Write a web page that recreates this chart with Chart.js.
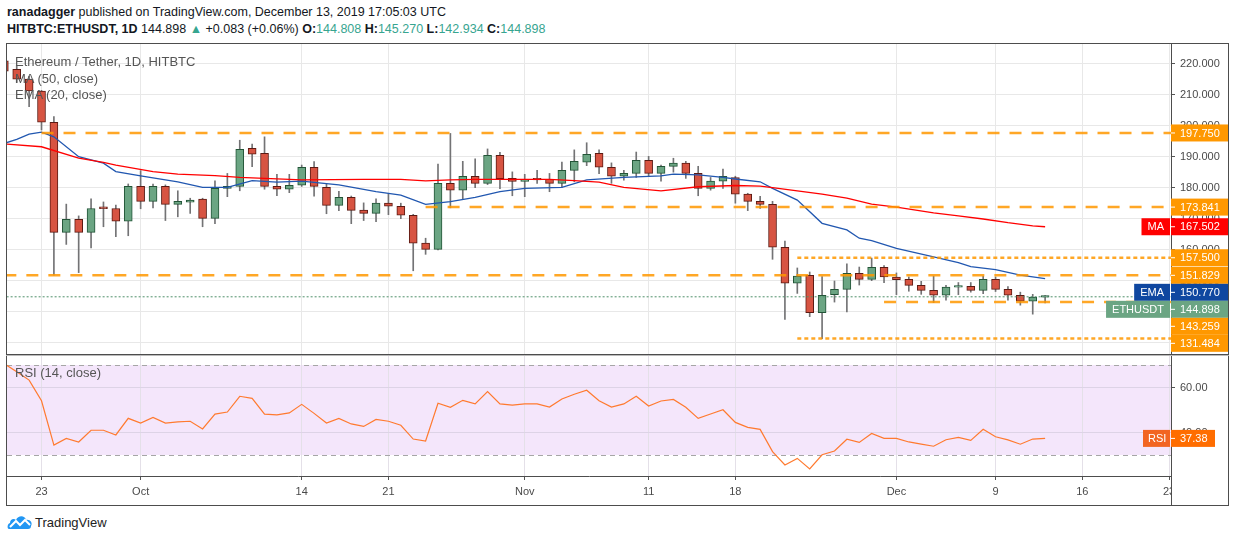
<!DOCTYPE html>
<html>
<head>
<meta charset="utf-8">
<script src="https://cdn.jsdelivr.net/npm/chart.js@4.4.1/dist/chart.umd.min.js"></script>
<style>
  body { margin: 0; width: 1234px; height: 540px; background: #fff; position: relative; overflow: hidden;
         font-family: "Liberation Sans", sans-serif; color: #131722; }
  .abs { position: absolute; }
  .hdr { left: 7px; font-size: 12.5px; white-space: nowrap; }
  .up { color: #37a590; }
  .legend { left: 15px; font-size: 13px; color: #555; line-height: 16.5px; white-space: nowrap; }
  .frame { border: 1px solid #4d4d4d; box-sizing: border-box; pointer-events: none; }
  .hline { background: #4d4d4d; height: 1px; }
  .vline { background: #4d4d4d; width: 1px; }
</style>
</head>
<body>
<div class="abs hdr" style="top:5px"><b>ranadagger</b> published on TradingView.com, December 13, 2019 17:05:03 UTC</div>
<div class="abs hdr" style="top:22px"><b>HITBTC:ETHUSDT, 1D</b> 144.898 <span class="up">&#9650;</span> +0.083 (+0.06%) <b>O:</b><span class="up">144.808</span> <b>H:</b><span class="up">145.270</span> <b>L:</b><span class="up">142.934</span> <b>C:</b><span class="up">144.898</span></div>

<div class="abs" style="left:0;top:44px;width:1234px;height:310px"><canvas id="priceChart"></canvas></div>
<div class="abs" style="left:0;top:356px;width:1234px;height:149px"><canvas id="rsiChart"></canvas></div>

<div class="abs frame" style="left:6px;top:43px;width:1223px;height:463px"></div>
<div class="abs hline" style="left:6px;top:354px;width:1223px"></div>
<div class="abs hline" style="left:6px;top:355px;width:1223px;background:#bbb"></div>
<div class="abs vline" style="left:1171px;top:476px;height:29px"></div>

<div class="abs legend" style="top:54px">Ethereum / Tether, 1D, HITBTC<br>MA (50, close)<br>EMA (20, close)</div>
<div class="abs legend" style="top:365px">RSI (14, close)</div>

<div class="abs" style="left:7px;top:514px;display:flex;align-items:center;font-size:13px;color:#222">
  <svg width="26" height="16" viewBox="0 0 26 16">
    <path d="M2 15 C0 15 0 10 3 9 C3 5 7 4 9 6 C11 1 18 1 19 6 C23 5 26 9 24 12 C24 14 23 15 21 15 Z" fill="#2196f3"/>
    <path d="M3 13 L9 7 L13 11 L18 6 L23 11" stroke="#fff" stroke-width="2" fill="none"/>
  </svg>
  <span style="margin-left:2px">TradingView</span>
</div>

<script>
// Sep 20, 2019 = day 0 ... Dec 13, 2019 = day 84
const opens = [221.0, 218.3, 215.1, 211.3, 201.2, 165.7, 169.9, 165.7, 173.9, 173.4,
  169.3, 180.5, 175.7, 180.5, 174.7, 175.4, 176.4, 170.2, 179.9, 180.5,
  192.8, 191.2, 180.5, 179.6, 180.9, 186.7, 180.2, 174.4, 177.0, 172.9,
  171.8, 175.1, 174.1, 171.2, 162.2, 160.2, 181.5, 179.3, 183.8, 181.5,
  190.5, 183.1, 182.1, 183.1, 182.8, 181.5, 185.7, 188.3, 191.2, 186.7,
  183.8, 184.7, 188.9, 184.7, 187.0, 188.0, 184.7, 179.9, 182.2, 183.4,
  178.0, 175.7, 174.7, 160.9, 149.3, 151.8, 139.8, 145.6, 147.3, 152.5,
  150.5, 154.4, 151.3, 150.5, 148.6, 147.0, 145.4, 148.0, 148.3, 147.0,
  150.5, 147.3, 145.4, 143.5, 144.808];
const highs = [222.0, 219.5, 216.0, 211.5, 203.0, 174.8, 171.0, 176.5, 175.5, 174.5,
  181.3, 185.6, 181.3, 181.0, 179.1, 176.7, 176.7, 182.3, 184.7, 195.4,
  194.2, 196.5, 184.4, 184.4, 187.4, 188.5, 181.3, 178.9, 177.4, 175.2,
  176.5, 178.1, 175.1, 171.5, 163.8, 187.7, 197.6, 188.6, 189.4, 192.6,
  191.5, 185.2, 184.4, 185.7, 184.7, 188.4, 192.3, 194.6, 192.3, 188.1,
  185.7, 191.6, 190.2, 187.4, 189.6, 188.6, 187.0, 183.4, 186.1, 183.8,
  178.3, 177.3, 175.7, 162.9, 154.2, 152.9, 151.4, 150.0, 155.5, 154.5,
  157.4, 155.0, 152.6, 151.3, 149.9, 151.6, 148.6, 149.5, 149.5, 151.6,
  151.3, 148.2, 146.4, 145.7, 145.27];
const lows = [216.5, 214.0, 206.2, 198.7, 151.9, 161.8, 152.7, 160.7, 167.5, 164.3,
  164.6, 173.3, 173.6, 169.5, 170.7, 171.8, 167.5, 168.5, 177.2, 179.1,
  186.9, 179.6, 177.5, 178.5, 180.5, 177.4, 171.7, 172.7, 168.5, 169.5,
  169.1, 171.4, 170.1, 153.3, 158.6, 160.0, 173.6, 176.4, 180.1, 181.1,
  179.8, 177.5, 177.2, 181.5, 178.8, 180.2, 182.0, 187.2, 184.6, 181.5,
  182.5, 183.4, 183.8, 182.2, 185.1, 183.1, 177.5, 179.3, 179.9, 175.1,
  172.7, 173.4, 157.0, 137.6, 146.0, 138.5, 131.4, 143.2, 140.0, 148.7,
  150.1, 149.5, 145.6, 146.7, 145.7, 143.0, 143.8, 145.6, 146.4, 145.9,
  146.6, 143.8, 142.2, 139.3, 142.934];
const closes = [217.7, 215.1, 211.3, 201.2, 165.7, 169.9, 165.7, 173.4, 173.3, 169.3,
  180.5, 175.7, 180.5, 174.7, 175.7, 176.1, 170.2, 179.9, 180.5, 192.5,
  190.9, 180.5, 179.6, 180.9, 186.7, 180.5, 174.4, 177.0, 172.8, 171.8,
  175.1, 174.1, 171.2, 162.2, 160.2, 181.5, 179.3, 183.8, 181.5, 190.5,
  183.0, 182.1, 182.8, 182.6, 181.5, 185.7, 188.6, 190.9, 186.7, 183.8,
  184.7, 188.9, 184.7, 187.0, 188.0, 184.7, 179.9, 182.2, 183.8, 178.0,
  175.7, 174.7, 160.9, 149.3, 151.6, 139.8, 145.4, 147.3, 152.5, 150.5,
  154.4, 151.3, 150.4, 148.6, 147.0, 145.4, 148.0, 148.4, 147.0, 150.5,
  147.3, 145.4, 143.5, 144.82, 144.898];

// MA (50) and EMA (20)
const maDays = [0, 3, 6, 8, 9, 12, 14, 17, 19, 21, 24, 29, 32, 34, 36, 38, 41, 44, 46, 48, 50, 53, 56, 59, 61, 62, 64, 66, 68, 70, 72, 75, 77, 79, 81, 83, 84];
const maValues = [194.2, 193.3, 189.6, 188.3, 187.4, 185.3, 184.5, 184.0, 183.4, 183.1, 182.6, 182.8, 182.8, 182.3, 182.6, 182.8, 182.8, 182.8, 182.4, 181.9, 180.2, 179.1, 180.4, 180.8, 180.6, 180.1, 179.1, 178.0, 176.7, 174.8, 173.8, 172.0, 171.0, 170.0, 168.8, 167.8, 167.502];
const emaDays = [0, 1, 2, 3, 4, 6, 8, 9, 11, 14, 16, 18, 20, 22, 24, 27, 30, 32, 34, 36, 38, 40, 42, 45, 47, 50, 53, 54, 56, 58, 59, 61, 62, 64, 66, 68, 69, 70, 72, 75, 77, 78, 80, 82, 84];
const emaValues = [194.4, 195.7, 197.4, 198.0, 196.5, 190.1, 188.0, 185.3, 183.9, 182.0, 180.2, 180.2, 182.4, 181.9, 182.2, 181.0, 178.8, 177.7, 174.7, 175.6, 177.0, 178.8, 179.9, 180.2, 182.6, 183.4, 183.9, 184.5, 184.2, 183.4, 182.9, 182.0, 179.9, 176.1, 168.6, 166.5, 163.8, 163.0, 160.5, 157.8, 155.9, 154.6, 153.7, 151.9, 150.77];

const rsiValues = [70.5, 67.0, 63.3, 54.1, 34.4, 37.4, 35.8, 41.0, 41.0, 38.9,
  46.3, 44.2, 46.7, 44.2, 44.7, 45.0, 41.6, 48.2, 49.1, 56.1,
  55.2, 48.2, 47.8, 48.7, 52.5, 48.5, 44.2, 46.3, 43.8, 42.7,
  45.8, 45.0, 43.2, 37.1, 36.2, 53.0, 51.2, 54.3, 52.7, 58.2,
  52.7, 52.2, 52.7, 52.7, 51.3, 54.9, 57.0, 58.8, 54.1, 51.3,
  52.7, 56.1, 51.8, 54.0, 54.7, 51.2, 46.3, 48.2, 50.1, 44.5,
  42.3, 41.4, 31.5, 25.6, 28.5, 23.8, 30.1, 31.8, 37.0, 35.6,
  39.6, 37.4, 37.4, 35.8, 34.8, 33.9, 36.8, 37.8, 36.5, 41.4,
  38.1, 36.7, 34.8, 37.1, 37.38];

// horizontal levels drawn on the chart
const levelValues = [197.75, 173.841, 157.5, 151.829, 143.259, 131.484];
const levelStartDays = [3, 34, 64, 0, 71, 64];

const tickDays = [3, 11, 24, 31, 42, 52, 59, 72, 80, 87, 94];
const tickLabels = ['23', 'Oct', '14', '21', 'Nov', '11', '18', 'Dec', '9', '16', '23'];
const priceTicks = [130, 140, 150, 160, 170, 180, 190, 200, 210, 220];
const rsiTicks = [40, 60];
const rsiBand = [30, 70];

// styles
const UP = '#6ba583', DOWN = '#d75442', UP_BORDER = '#225437', DOWN_BORDER = '#5b1a13', WICK = '#737375';
const ORANGE = '#ff9800';
const levelDash = [[12, 10], [12, 10], [4, 3], [12, 10], [12, 10], [4, 3]];
const FONT = '"Liberation Sans", sans-serif';
const X_MIN = 0.215, X_MAX = 94.16;

Chart.defaults.font.family = FONT;
Chart.defaults.font.size = 11;
Chart.defaults.color = '#4a4a4a';
Chart.defaults.animation = false;

const isUp = i => closes[i] >= opens[i];
const lastIdx = closes.length - 1;

function fixY(width) {
  return s => { s.width = width; s.paddingTop = 0; s.paddingBottom = 0; };
}

// right-side price tags, stacked so they don't overlap
const priceTagPlugin = {
  id: 'priceTags',
  afterDraw(chart) {
    const { ctx, chartArea, scales: { y } } = chart;
    const tags = levelValues.map(v => ({ v, bg: ORANGE }));
    tags.push({ v: maValues[maValues.length - 1], bg: '#ff0000', tag: 'MA' });
    tags.push({ v: emaValues[emaValues.length - 1], bg: '#0f47a0', tag: 'EMA' });
    tags.push({ v: closes[lastIdx], bg: UP, tag: 'ETHUSDT' });
    tags.forEach(t => t.py = y.getPixelForValue(t.v));
    tags.sort((a, b) => a.py - b.py);
    const h = 17;
    let prev = -100;
    ctx.save();
    ctx.font = '11px ' + FONT;
    ctx.textBaseline = 'middle';
    tags.forEach(t => {
      const cy = Math.max(t.py, prev + h);
      prev = cy;
      const x0 = chartArea.right;
      ctx.fillStyle = t.bg;
      ctx.fillRect(x0, cy - h / 2, 57, h);
      ctx.fillStyle = '#fff';
      ctx.fillRect(x0, cy - 0.5, 4, 1);
      ctx.fillText(t.v.toFixed(3), x0 + 9, cy + 0.5);
      if (t.tag) {
        const w = ctx.measureText(t.tag).width + 12;
        ctx.fillStyle = t.bg;
        ctx.fillRect(x0 - w - 1, cy - h / 2, w, h);
        ctx.fillStyle = '#fff';
        ctx.fillText(t.tag, x0 - w + 5, cy + 0.5);
      }
    });
    ctx.restore();
  }
};

const wickData = highs.map((h, i) => ({ x: i, y: [lows[i], h] }));
const bodyData = opens.map((o, i) => ({ x: i, y: [Math.min(o, closes[i]), Math.max(o, closes[i])] }));
const levelSets = levelValues.map((v, k) => ({
  type: 'line',
  data: [{ x: levelStartDays[k], y: v }, { x: X_MAX + 1, y: v }],
  borderColor: 'rgba(255,152,0,0.85)',
  borderWidth: 2.5,
  borderDash: levelDash[k],
  pointRadius: 0,
  order: 1
}));

new Chart(document.getElementById('priceChart'), {
  type: 'bar',
  data: {
    datasets: [
      { data: wickData, backgroundColor: WICK, barThickness: 1, grouped: false, order: 6 },
      { data: bodyData, grouped: false, order: 5, barThickness: 8, borderWidth: 1, borderSkipped: false, minBarLength: 1.5,
        backgroundColor: c => isUp(c.dataIndex) ? UP : DOWN,
        borderColor: c => isUp(c.dataIndex) ? UP_BORDER : DOWN_BORDER },
      { type: 'line', data: maDays.map((d, i) => ({ x: d, y: maValues[i] })), borderColor: '#ff0000', borderWidth: 1.3, pointRadius: 0, order: 3 },
      { type: 'line', data: emaDays.map((d, i) => ({ x: d, y: emaValues[i] })), borderColor: '#2157b0', borderWidth: 1.3, pointRadius: 0, order: 3 },
      { type: 'line', data: [{ x: X_MIN - 1, y: closes[lastIdx] }, { x: X_MAX + 1, y: closes[lastIdx] }],
        borderColor: '#4f8f6a', borderWidth: 1, borderDash: [2, 2], pointRadius: 0, order: 4 },
      ...levelSets
    ]
  },
  options: {
    responsive: true,
    maintainAspectRatio: false,
    layout: { padding: { left: 7, right: 0, top: 0, bottom: 0 } },
    plugins: { legend: { display: false }, tooltip: { enabled: false } },
    scales: {
      x: {
        type: 'linear', min: X_MIN, max: X_MAX, offset: false,
        grid: { color: '#e8e8e8', drawTicks: false, offset: false },
        border: { display: false },
        ticks: { display: false },
        afterBuildTicks: s => { s.ticks = tickDays.map(v => ({ value: v })); },
        afterFit: s => { s.height = 0; s.paddingLeft = 0; s.paddingRight = 0; }
      },
      y: {
        position: 'right', min: 126.45, max: 226.45,
        grid: { color: '#e8e8e8', tickLength: 4, tickColor: '#555' },
        border: { color: '#4d4d4d' },
        ticks: { padding: 5, color: '#4a4a4a', callback: v => v.toFixed(3) },
        afterBuildTicks: s => { s.ticks = priceTicks.map(v => ({ value: v })); },
        afterFit: fixY(63)
      }
    }
  },
  plugins: [priceTagPlugin]
});

const rsiPlugin = {
  id: 'rsiBand',
  beforeDraw(chart) {
    const { ctx, chartArea, scales: { y } } = chart;
    const top = y.getPixelForValue(rsiBand[1]), bot = y.getPixelForValue(rsiBand[0]);
    ctx.save();
    ctx.fillStyle = '#f4e6fb';
    ctx.fillRect(chartArea.left, top, chartArea.right - chartArea.left, bot - top);
    ctx.restore();
  },
  beforeDatasetsDraw(chart) {
    const { ctx, chartArea, scales: { y } } = chart;
    ctx.save();
    ctx.strokeStyle = '#a6a6a6';
    ctx.lineWidth = 1;
    ctx.setLineDash([5, 4]);
    rsiBand.forEach(v => {
      const py = Math.round(y.getPixelForValue(v)) + 0.5;
      ctx.beginPath();
      ctx.moveTo(chartArea.left, py);
      ctx.lineTo(chartArea.right, py);
      ctx.stroke();
    });
    ctx.restore();
  },
  afterDraw(chart) {
    const { ctx, chartArea, scales: { y } } = chart;
    // hide the axis labels that run into the price scale column
    ctx.clearRect(chartArea.right + 1, chartArea.bottom + 1, chart.width - chartArea.right, chart.height);
    const v = rsiValues[lastIdx];
    const cy = y.getPixelForValue(v), h = 17;
    ctx.save();
    ctx.font = '11px ' + FONT;
    ctx.textBaseline = 'middle';
    ctx.fillStyle = '#ff6d00';
    ctx.fillRect(chartArea.right, cy - h / 2, 44, h);
    ctx.fillStyle = '#f26522';
    ctx.fillRect(chartArea.right - 28, cy - h / 2, 27, h);
    ctx.fillStyle = '#fff';
    ctx.fillRect(chartArea.right, cy - 0.5, 4, 1);
    ctx.fillText(v.toFixed(2), chartArea.right + 9, cy + 0.5);
    ctx.fillText('RSI', chartArea.right - 23, cy + 0.5);
    ctx.restore();
  }
};

new Chart(document.getElementById('rsiChart'), {
  type: 'line',
  data: {
    datasets: [{ data: rsiValues.map((v, i) => ({ x: i, y: v })), borderColor: '#ff7a2f', borderWidth: 1.2, pointRadius: 0 }]
  },
  options: {
    responsive: true,
    maintainAspectRatio: false,
    layout: { padding: { left: 7, right: 0, top: 0, bottom: 0 } },
    plugins: { legend: { display: false }, tooltip: { enabled: false } },
    scales: {
      x: {
        type: 'linear', min: X_MIN, max: X_MAX,
        grid: { color: '#e4e0e8', tickLength: 4, tickColor: '#555' },
        border: { color: '#4d4d4d' },
        ticks: { autoSkip: false, maxRotation: 0, padding: 5, color: '#4a4a4a',
                 callback: v => tickLabels[tickDays.indexOf(v)] },
        afterBuildTicks: s => { s.ticks = tickDays.map(v => ({ value: v })); },
        afterFit: s => { s.height = 29; s.paddingLeft = 0; s.paddingRight = 0; }
      },
      y: {
        position: 'right', min: 20.67, max: 74,
        grid: { color: '#ddd3e6', tickLength: 4, tickColor: '#555' },
        border: { color: '#4d4d4d' },
        ticks: { padding: 5, color: '#4a4a4a', callback: v => v.toFixed(2) },
        afterBuildTicks: s => { s.ticks = rsiTicks.map(v => ({ value: v })); },
        afterFit: fixY(63)
      }
    }
  },
  plugins: [rsiPlugin]
});
</script>
</body>
</html>
